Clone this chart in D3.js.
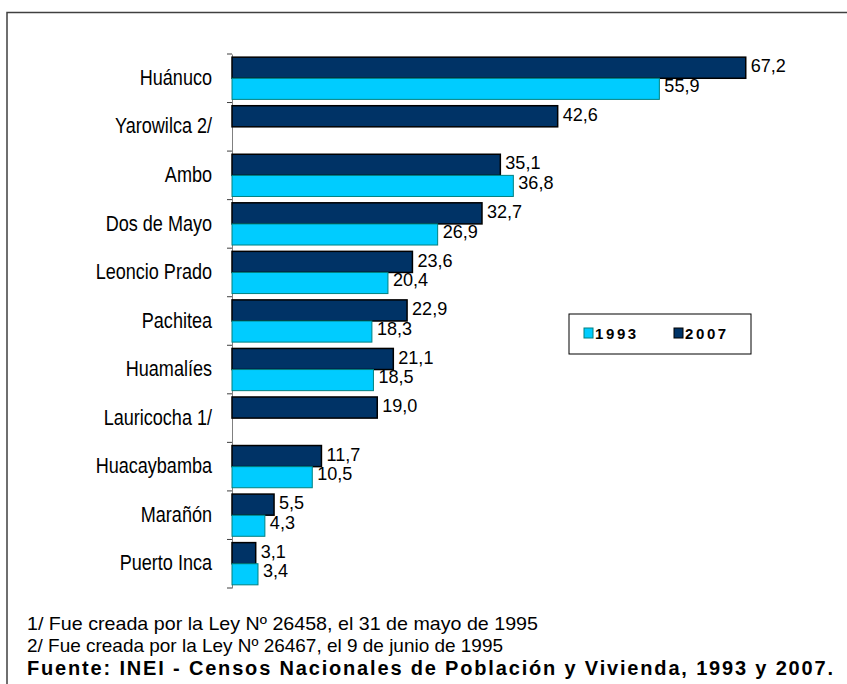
<!DOCTYPE html>
<html>
<head>
<meta charset="utf-8">
<script src="https://cdn.jsdelivr.net/npm/d3@7"></script>
<style>
  body { margin: 0; background: #fff; }
  text { font-family: "Liberation Sans", Arial, sans-serif; }
</style>
</head>
<body>
<div id="chart"></div>
<script>
// provinces, top to bottom
let provinces = ["Huánuco", "Yarowilca 2/", "Ambo", "Dos de Mayo", "Leoncio Prado", "Pachitea",
    "Huamalíes", "Lauricocha 1/", "Huacaybamba", "Marañón", "Puerto Inca"];
// percentages per census year (null = province did not exist yet)
let values1993 = [55.9, null, 36.8, 26.9, 20.4, 18.3, 18.5, null, 10.5, 4.3, 3.4];
let values2007 = [67.2, 42.6, 35.1, 32.7, 23.6, 22.9, 21.1, 19.0, 11.7, 5.5, 3.1];
let years = ["2007", "1993"];
let legendYears = ["1993", "2007"];
let notes = [
    "1/ Fue creada por la Ley  Nº 26458, el 31 de mayo de 1995",
    "2/ Fue creada por la Ley Nº 26467, el 9 de junio de 1995"
];
let source = "Fuente: INEI - Censos Nacionales de Población y Vivienda, 1993 y 2007.";

let svgWidth = 847;
let svgHeight = 684;

let colors = { "1993": "#00ccff", "2007": "#003366" };
let strokes = { "1993": "#008080", "2007": "#000000" };
// value labels sit a little above the middle of their bar
let labelShift = { "1993": -3.5, "2007": -2 };

let fmt = d3.formatLocale({ decimal: ",", thousands: ".", grouping: [3], currency: ["", ""] }).format(".1f");

// squeeze text horizontally to mimic a narrow font
function narrow(sel, factor) {
    sel.each(function() {
        var w = this.getComputedTextLength();
        d3.select(this)
            .attr("textLength", w * factor)
            .attr("lengthAdjust", "spacingAndGlyphs");
    });
}

// build rows
let rows = provinces.map((p, i) => ({ name: p, "1993": values1993[i], "2007": values2007[i] }));

var svg = d3.select("#chart")
    .append("svg")
    .attr("width", svgWidth)
    .attr("height", svgHeight);

// frame (only top and left edges are inside the picture)
svg.append("path")
    .attr("d", "M7,684 V12.5 H847")
    .attr("fill", "none")
    .attr("stroke", "#404040")
    .attr("stroke-width", 1.5);

// scales
var x = d3.scaleLinear()
    .domain([0, 70])
    .range([232, 232 + 70 * 7.645]);

var y = d3.scaleBand()
    .domain(provinces)
    .range([54, 588])
    .padding(0);

var ySub = d3.scaleBand()
    .domain(years)
    .range([0, y.bandwidth()])
    .paddingInner(0)
    .paddingOuter(0.15);

// left axis: labels only
var leftAxis = d3.axisLeft(y).tickSize(0).tickPadding(20);
var axisG = svg.append("g")
    .attr("transform", `translate(${x(0)},0)`)
    .call(leftAxis);
axisG.select(".domain").attr("stroke", "#808080");
axisG.selectAll("text")
    .attr("font-size", "22px")
    .attr("font-family", "Liberation Sans, Arial, sans-serif")
    .attr("fill", "#000")
    .attr("dy", "0.3em")
    .call(narrow, 0.82);

// ticks at the category boundaries
var bounds = provinces.map(p => y(p)).concat([y.range()[1]]);
svg.selectAll(".bound")
    .data(bounds)
    .enter()
    .append("line")
    .attr("class", "bound")
    .attr("x1", x(0) - 5)
    .attr("x2", x(0))
    .attr("y1", d => d)
    .attr("y2", d => d)
    .attr("stroke", "#404040");

// bars
var groups = svg.selectAll(".prov")
    .data(rows)
    .enter()
    .append("g")
    .attr("class", "prov")
    .attr("transform", d => `translate(0,${y(d.name)})`);

years.forEach(function(yr) {
    var withVal = d => d[yr] !== null;
    groups.filter(withVal)
        .append("rect")
        .attr("x", x(0))
        .attr("y", ySub(yr))
        .attr("width", d => x(d[yr]) - x(0))
        .attr("height", ySub.bandwidth())
        .attr("fill", colors[yr])
        .attr("stroke", strokes[yr])
        .attr("stroke-width", yr === "2007" ? 1.5 : 1);

    groups.filter(withVal)
        .append("text")
        .attr("x", d => x(d[yr]) + 5)
        .attr("y", ySub(yr) + ySub.bandwidth() / 2 + labelShift[yr])
        .attr("dy", "0.35em")
        .attr("font-size", "19px")
        .attr("fill", "#000")
        .text(d => fmt(d[yr]))
        .call(narrow, 0.95);
});

// legend
var legend = svg.append("g").attr("transform", "translate(569,314)");
legend.append("rect")
    .attr("width", 182)
    .attr("height", 40)
    .attr("fill", "#fff")
    .attr("stroke", "#000");
legendYears.forEach(function(yr, i) {
    var lg = legend.append("g").attr("transform", `translate(${15 + i * 90},14)`);
    lg.append("rect")
        .attr("width", 9)
        .attr("height", 10)
        .attr("fill", colors[yr])
        .attr("stroke", strokes[yr]);
    lg.append("text")
        .attr("x", 11)
        .attr("y", 10.5)
        .attr("font-size", "15px")
        .attr("font-weight", "bold")
        .attr("letter-spacing", "2.6px")
        .text(yr);
});

// footnotes
var noteWidths = [511, 476];
svg.selectAll(".note")
    .data(notes)
    .enter()
    .append("text")
    .attr("class", "note")
    .attr("x", 27)
    .attr("y", (d, i) => 630 + i * 22)
    .attr("font-size", "19px")
    .attr("fill", "#000")
    .attr("textLength", (d, i) => noteWidths[i])
    .attr("lengthAdjust", "spacingAndGlyphs")
    .text(d => d);

svg.append("text")
    .attr("x", 27)
    .attr("y", 675)
    .attr("font-size", "20px")
    .attr("font-weight", "bold")
    .attr("fill", "#000")
    .attr("textLength", 806)
    .attr("lengthAdjust", "spacing")
    .text(source);
</script>
</body>
</html>
